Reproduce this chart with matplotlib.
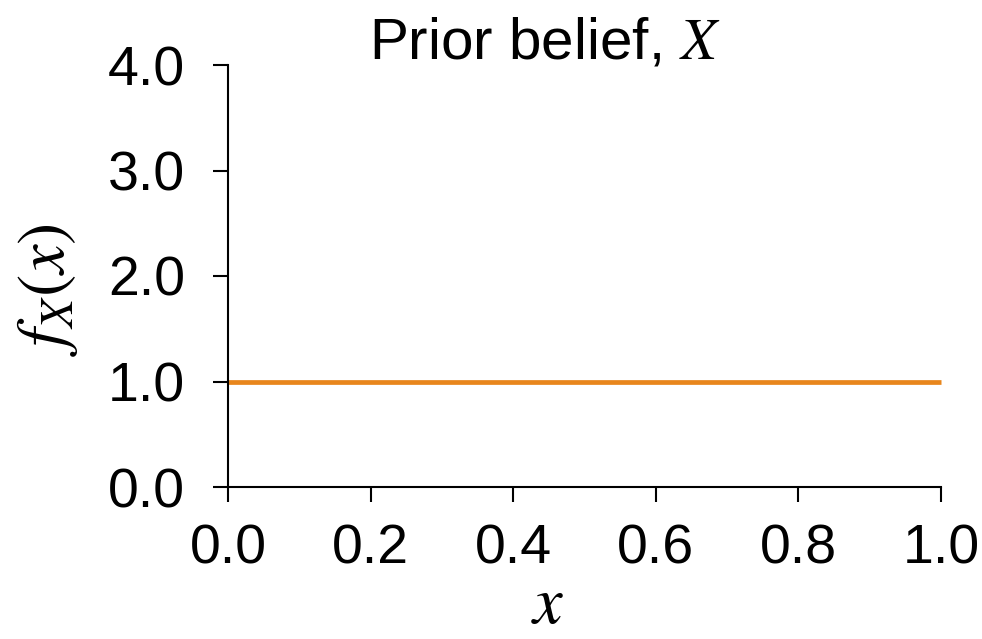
import matplotlib
matplotlib.use("Agg")
import matplotlib.pyplot as plt
import numpy as np

x_vals = [0.0, 1.0]
density = [1.0, 1.0]
xticks = [0.0, 0.2, 0.4, 0.6, 0.8, 1.0]
yticks = [0.0, 1.0, 2.0, 3.0, 4.0]

plt.rcParams['font.family'] = ['Liberation Sans', 'DejaVu Sans']
plt.rcParams['mathtext.fontset'] = 'stix'

W, H = 982, 639
fig = plt.figure(figsize=(W/100, H/100), dpi=100)
ax = fig.add_axes([228/W, 1-487/H, (941-228)/W, (487-65)/H])
ax.plot(x_vals, density, color='#E8861C', lw=3.4, solid_capstyle='butt', clip_on=False)
ax.set_xlim(0, 1)
ax.set_ylim(0, 4)
ax.set_xticks(xticks)
ax.set_yticks(yticks)
ax.set_xticklabels([f"{t:.1f}" for t in xticks])
ax.set_yticklabels([f"{t:.1f}" for t in yticks])
for s in ['top', 'right']:
    ax.spines[s].set_visible(False)
for s in ['left', 'bottom']:
    ax.spines[s].set_linewidth(1.5)
ax.tick_params(axis='both', length=11, width=1.5, labelsize=40)
ax.tick_params(axis='y', pad=20)
ax.tick_params(axis='x', pad=15)
fig.text(545/W, 1-58/H, r"Prior belief, $X$", fontsize=42, ha='center', va='baseline')
fig.text(548/W, 1-637/H, r"$x$", fontsize=48, ha='center', va='bottom')
fig.text(47/W, 1-290/H, r"$f_X(x)$", fontsize=48, ha='center', va='center', rotation=90)
fig.savefig("out.png", dpi=100)
